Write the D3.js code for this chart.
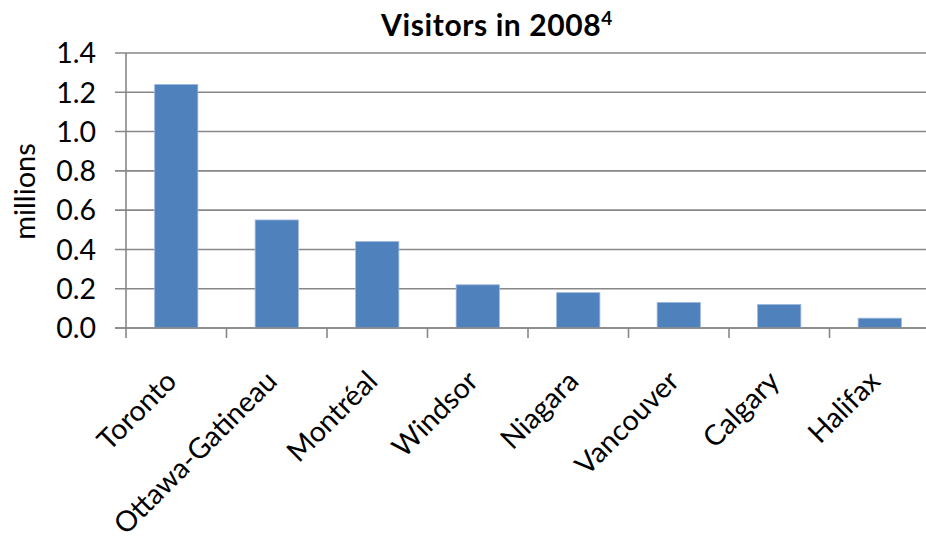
<!DOCTYPE html>
<html>
<head>
<meta charset="utf-8">
<script src="https://cdn.jsdelivr.net/npm/d3@7"></script>
<style>
  html, body { margin: 0; padding: 0; background: #fff; }
  svg { display: block; }
  text { font-family: Lato, "Open Sans", sans-serif; fill: #000; }
</style>
</head>
<body>
<svg id="chart" width="926" height="542"></svg>
<script>
const categories = ["Toronto", "Ottawa-Gatineau", "Montréal", "Windsor", "Niagara", "Vancouver", "Calgary", "Halifax"];
const visitors = [1.24, 0.55, 0.44, 0.22, 0.18, 0.13, 0.12, 0.05];
const yTicks = [0, 0.2, 0.4, 0.6, 0.8, 1.0, 1.2, 1.4];
const titleText = "Visitors in 2008";
const titleSup = "4";
const yAxisLabel = "millions";

const plotLeft = 126, plotRight = 930, plotTop = 53, plotBottom = 328;

const svg = d3.select("#chart");

const x = d3.scaleBand().domain(categories).range([plotLeft, plotRight])
  .paddingInner(0.57).paddingOuter(0.285);
const y = d3.scaleLinear().domain([0, 1.4]).range([plotBottom, plotTop]);

const gridColor = "#878787";

// gridlines (extend left as ticks)
svg.append("g").selectAll("line").data(yTicks).join("line")
  .attr("x1", plotLeft - 11).attr("x2", plotRight)
  .attr("y1", d => y(d)).attr("y2", d => y(d))
  .attr("stroke", gridColor).attr("stroke-width", 1.6);

// y axis line
svg.append("line").attr("x1", plotLeft).attr("x2", plotLeft)
  .attr("y1", plotTop).attr("y2", plotBottom)
  .attr("stroke", gridColor).attr("stroke-width", 1.6);

// x tick marks at category boundaries
const bounds = categories.map(c => x(c) + x.bandwidth() / 2 - x.step() / 2);
bounds.push(bounds[bounds.length - 1] + x.step());
svg.append("g").selectAll("line").data(bounds).join("line")
  .attr("x1", d => d).attr("x2", d => d)
  .attr("y1", plotBottom).attr("y2", plotBottom + 10)
  .attr("stroke", gridColor).attr("stroke-width", 1.6);

// bars
svg.append("g").selectAll("rect").data(categories).join("rect")
  .attr("x", d => x(d))
  .attr("y", (d, i) => y(visitors[i]))
  .attr("width", x.bandwidth())
  .attr("height", (d, i) => y(0) - y(visitors[i]))
  .attr("fill", "#4F81BD")
  .attr("stroke", "#9DB8DC").attr("stroke-width", 0.8);

// redraw baseline over bars
svg.append("line").attr("x1", plotLeft - 11).attr("x2", plotRight)
  .attr("y1", y(0)).attr("y2", y(0))
  .attr("stroke", gridColor).attr("stroke-width", 1.6);

// y tick labels
svg.append("g").selectAll("text").data(yTicks).join("text")
  .attr("x", plotLeft - 30).attr("y", d => y(d))
  .attr("dy", "0.36em")
  .attr("text-anchor", "end")
  .style("font-size", "28.5px")
  .text(d => d3.format(".1f")(d));

// x labels rotated
svg.append("g").selectAll("text").data(categories).join("text")
  .attr("text-anchor", "end")
  .attr("transform", d => `translate(${x(d) + x.bandwidth() / 2 + 2},${383}) rotate(-45)`)
  .style("font-size", "28.5px")
  .text(d => d);

// y axis title
svg.append("text")
  .attr("transform", `translate(35,${(plotTop + plotBottom) / 2 + 1}) rotate(-90)`)
  .attr("text-anchor", "middle")
  .style("font-size", "29px")
  .text(yAxisLabel);

// chart title
const t = svg.append("text")
  .attr("x", 497).attr("y", 36)
  .attr("text-anchor", "middle")
  .style("font-size", "30px").style("font-weight", "bold")
  .style("letter-spacing", "0.6px");
t.append("tspan").text(titleText);
t.append("tspan").attr("dy", -11).style("font-size", "19px").text(titleSup);
</script>
</body>
</html>
